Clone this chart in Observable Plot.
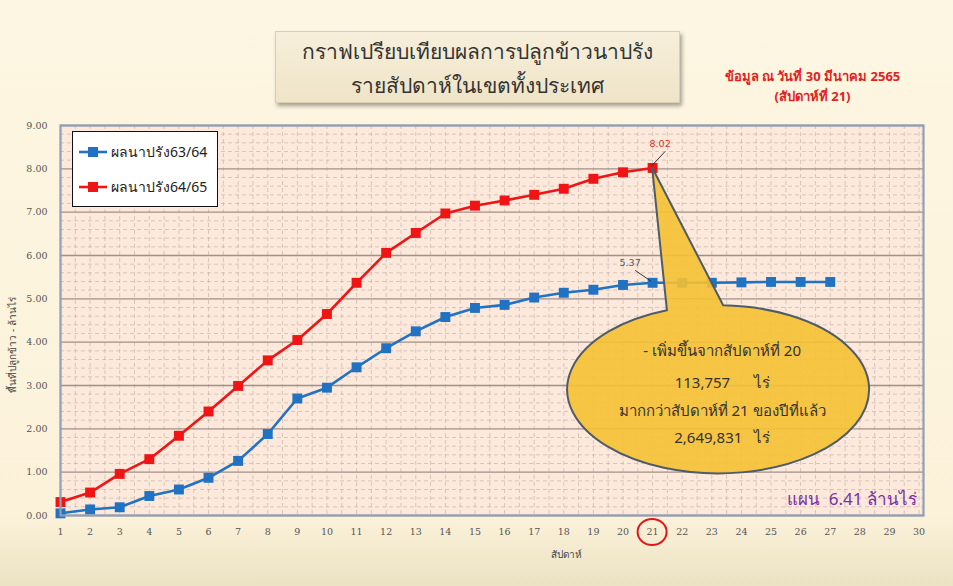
<!DOCTYPE html>
<html>
<head>
<meta charset="utf-8">
<script src="https://cdn.jsdelivr.net/npm/d3@7"></script>
<script src="https://cdn.jsdelivr.net/npm/@observablehq/plot@0.6"></script>
<style>
  body { margin: 0; }
  #wrap {
    position: relative; width: 953px; height: 586px; overflow: hidden;
    background: linear-gradient(180deg, #fdf6e2 0%, #fcf2da 88%, #ebe2c3 100%);
    font-family: "Noto Sans", "DejaVu Sans", sans-serif;
  }
  #wrap > svg { position: absolute; left: 0; top: 0; }
  #titlebox {
    position: absolute; left: 275px; top: 31px; width: 405px; height: 72px;
    background: linear-gradient(180deg, #f7efdb 0%, #efe4c7 100%);
    border: 1px solid #d9ceb2; box-shadow: 2px 3px 4px rgba(0,0,0,0.35);
    text-align: center; color: #333; font-size: 21px; line-height: 34px;
    padding-top: 2px; box-sizing: border-box;
  }
  #datenote {
    position: absolute; left: 705px; top: 66px; width: 215px; text-align: center;
    color: #e3211c; font-size: 13px; line-height: 20px; font-weight: bold;
  }
  #legend {
    position: absolute; left: 72px; top: 131px; width: 146px; height: 76px;
    background: #fff; border: 1.5px solid #111; box-sizing: border-box;
    font-size: 14px; color: #222;
  }
  .lg { position: absolute; left: 5px; height: 20px; display: flex; align-items: center; white-space: nowrap; }
  .lg svg { margin-right: 3px; }
</style>
</head>
<body>
<div id="wrap">
  <div id="titlebox">กราฟเปรียบเทียบผลการปลูกข้าวนาปรัง<br>รายสัปดาห์ในเขตทั้งประเทศ</div>
  <div id="datenote">ข้อมูล ณ วันที่ 30 มีนาคม 2565<br>(สัปดาห์ที่ 21)</div>
</div>
<script>
// ---- data ----
const seriesNames = ["ผลนาปรัง63/64", "ผลนาปรัง64/65"];
const seriesColors = ["#2272c3", "#f01414"];
const values6364 = [0.05, 0.14, 0.19, 0.45, 0.60, 0.87, 1.26, 1.88, 2.70, 2.95,
                    3.42, 3.86, 4.25, 4.58, 4.79, 4.86, 5.03, 5.14, 5.21, 5.32,
                    5.37, 5.37, 5.37, 5.38, 5.39, 5.39, 5.39];
const values6465 = [0.31, 0.53, 0.96, 1.30, 1.84, 2.40, 2.99, 3.58, 4.05, 4.65,
                    5.37, 6.06, 6.52, 6.97, 7.15, 7.27, 7.40, 7.54, 7.77, 7.92,
                    8.02];
const weekTicks = [1,2,3,4,5,6,7,8,9,10,11,12,13,14,15,16,17,18,19,20,21,22,23,24,25,26,27,28,29,30];
const valueTicks = [0,1,2,3,4,5,6,7,8,9];
const yLabel = "พื้นที่ปลูกข้าว - ล้านไร่";
const xLabel = "สัปดาห์";
const calloutLines = ["- เพิ่มขึ้นจากสัปดาห์ที่ 20", "113,757      ไร่", "มากกว่าสัปดาห์ที่ 21 ของปีที่แล้ว", "2,649,831   ไร่"];
const planText = "แผน  6.41 ล้านไร่";
const highlightWeek = 21;

// ---- table ----
const data = [
  ...values6364.map((v, i) => ({week: i + 1, value: v, series: seriesNames[0]})),
  ...values6465.map((v, i) => ({week: i + 1, value: v, series: seriesNames[1]}))
];
const minorY = d3.range(0, 9.001, 0.2).filter(v => Math.abs(v - Math.round(v)) > 1e-6);
const minorX = d3.range(1.5, 30.2, 0.5);

const plot = Plot.plot({
  width: 953, height: 586,
  marginLeft: 60, marginRight: 30, marginTop: 125, marginBottom: 71,
  style: {background: "transparent", fontFamily: "'DejaVu Serif', serif", fontSize: "9.5px", color: "#555", overflow: "visible"},
  x: {domain: [1, 30.15]},
  y: {domain: [0, 9]},
  color: {domain: seriesNames, range: seriesColors},
  marks: [
    Plot.frame({fill: "#fce9dc", stroke: null}),
    Plot.ruleY(minorY, {stroke: "#b9aaa0", strokeOpacity: 0.7, strokeDasharray: "4,3", strokeWidth: 0.8}),
    Plot.ruleX(minorX, {stroke: "#b9aaa0", strokeOpacity: 0.7, strokeDasharray: "4,3", strokeWidth: 0.8}),
    Plot.ruleY(valueTicks, {stroke: "#a09088", strokeWidth: 1.4}),
    Plot.axisY({ticks: valueTicks, tickFormat: d => d.toFixed(2), tickSize: 0, tickPadding: 13, label: null}),
    Plot.axisX({ticks: weekTicks, tickFormat: d => String(d), tickSize: 0, tickPadding: 13, label: null}),
    Plot.line(data, {x: "week", y: "value", z: "series", stroke: "series", strokeWidth: 2.6}),
    Plot.dot(data, {x: "week", y: "value", fill: "series", symbol: "square", r: 5.6}),
    Plot.frame({stroke: "#8ea0b4", strokeWidth: 2.2})
  ]
});
document.getElementById("wrap").appendChild(plot);

const sx = plot.scale("x").apply, sy = plot.scale("y").apply;
const svg = d3.select(plot);
const sans = "'Noto Sans', 'DejaVu Sans', sans-serif";

// axis titles
svg.append("text").attr("transform", `translate(16,${(sy(0) + sy(9)) / 2 + 25}) rotate(-90)`)
  .attr("text-anchor", "middle").attr("font-size", 10).attr("fill", "#444").attr("font-family", sans).text(yLabel);
svg.append("text").attr("x", sx(18.1)).attr("y", 558)
  .attr("text-anchor", "middle").attr("font-size", 10).attr("fill", "#444").attr("font-family", sans).text(xLabel);

// red circle on highlighted week tick
svg.append("ellipse").attr("cx", sx(highlightWeek)).attr("cy", sy(0) + 17)
  .attr("rx", 14.5).attr("ry", 13).attr("fill", "none").attr("stroke", "#e01818").attr("stroke-width", 2);

// callout (speech bubble) anchored to last point of 64/65
const last = values6465.length;
const tipX = sx(last), tipY = sy(values6465[last - 1]);
const ecx = sx(23.23), ecy = sy(2.9), erx = sx(1 + 5.1) - sx(1), ery = sy(0) - sy(1.94);
const onTop = (w) => { const x = sx(w); const t = (x - ecx) / erx; return [x, ecy - ery * Math.sqrt(1 - t * t)]; };
const [bLx, bLy] = onTop(21.5), [bRx, bRy] = onTop(23.4);
svg.append("path")
  .attr("d", `M${bRx},${bRy} L${tipX},${tipY} L${bLx},${bLy} A${erx},${ery} 0 1 0 ${bRx},${bRy} Z`)
  .attr("fill", "#f6c133").attr("fill-opacity", 0.9)
  .attr("stroke", "#4e5b68").attr("stroke-width", 2);
const calloutYs = [351, 383, 411, 438];
calloutLines.forEach((t, i) => {
  svg.append("text").attr("x", ecx + 4).attr("y", calloutYs[i]).attr("dy", "0.35em")
    .attr("text-anchor", "middle").attr("font-size", 15).attr("fill", "#333")
    .attr("font-family", sans).style("white-space", "pre").text(t);
});

// value labels
const lab = (w, v, dx, dy, txt, col) => {
  const x = sx(w), y = sy(v);
  svg.append("line").attr("x1", x + dx + 5).attr("y1", y + dy + 4).attr("x2", x - 1).attr("y2", y - 1)
    .attr("stroke", "#333").attr("stroke-width", 1);
  svg.append("text").attr("x", x + dx).attr("y", y + dy).attr("text-anchor", "middle")
    .attr("font-size", 9.5).attr("fill", col).attr("font-family", "'DejaVu Sans', sans-serif").text(txt);
};
lab(last, values6465[last - 1], 8, -20, values6465[last - 1].toFixed(2), "#e0302a");
lab(highlightWeek, values6364[highlightWeek - 1], -22, -16, values6364[highlightWeek - 1].toFixed(2), "#4a5a70");

// plan text
svg.append("text").attr("x", sx(30.15) - 6).attr("y", sy(0) - 10).attr("text-anchor", "end")
  .attr("font-size", 17).attr("fill", "#7a2fa6").attr("font-family", sans).style("white-space", "pre").text(planText);

// legend
const legend = document.createElement("div");
legend.id = "legend";
seriesNames.forEach((name, i) => {
  const row = document.createElement("div");
  row.className = "lg"; row.style.top = (i === 0 ? 10 : 45) + "px";
  row.innerHTML = `<svg width="30" height="14"><line x1="1" y1="7" x2="29" y2="7" stroke="${seriesColors[i]}" stroke-width="2.6"/><rect x="10" y="2" width="10" height="10" fill="${seriesColors[i]}"/></svg><span>${name}</span>`;
  legend.appendChild(row);
});
document.getElementById("wrap").appendChild(legend);
</script>
</body>
</html>
